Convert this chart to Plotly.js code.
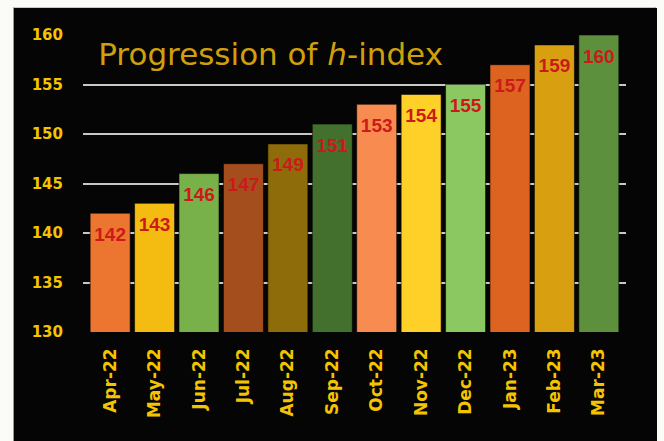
<!DOCTYPE html>
<html>
<head>
<meta charset="utf-8">
<script src="https://cdn.plot.ly/plotly-3.0.1.min.js"></script>
<style>
  html, body { margin: 0; padding: 0; background: #fbfbf8; overflow: hidden; width: 664px; height: 441px; }
  #chart { position: absolute; left: 13px; top: 7px; width: 643px; height: 434px;
           border-left: 1px solid #9a9a9a; border-right: 2px solid #b0b0b0; border-top: 1px solid #c8c8c8;
           box-sizing: border-box; background: #050505; }
</style>
</head>
<body>
<div id="chart"></div>
<script>
const months = ["Apr-22","May-22","Jun-22","Jul-22","Aug-22","Sep-22","Oct-22","Nov-22","Dec-22","Jan-23","Feb-23","Mar-23"];
const hIndex = [142,143,146,147,149,151,153,154,155,157,159,160];
const barColors = ["#EC7630","#F4BC10","#78B04A","#A44E1E","#8E6C0A","#44702E","#F88C50","#FFD028","#8CC862","#DC6420","#D8A010","#5C903C"];
const labelDrop = 2.3;

const bars = {
  type: 'bar', x: months, y: hIndex, base: 0,
  marker: { color: barColors, line: { color: 'rgba(0,0,0,0.55)', width: 1 } },
  hoverinfo: 'x+y', showlegend: false
};
const labels = {
  type: 'scatter', mode: 'text', x: months,
  y: hIndex.map(v => v - labelDrop),
  text: hIndex.map(String),
  textposition: 'middle center',
  textfont: { family: 'Liberation Sans Narrow, Arial, Liberation Sans, sans-serif', size: 19, color: '#CC1A1A', weight: 'bold' },
  hoverinfo: 'skip', showlegend: false
};

const layout = {
  width: 643, height: 434,
  paper_bgcolor: '#050505', plot_bgcolor: '#050505',
  margin: { l: 69, r: 31, t: 27, b: 110 },
  bargap: 0.1,
  title: {
    text: 'Progression of <i>h</i>-index',
    x: 0.131, xanchor: 'left', xref: 'container',
    y: 0.893, yanchor: 'middle', yref: 'container',
    font: { family: 'DejaVu Sans, sans-serif', size: 31, color: '#CFA00C' }
  },
  xaxis: {
    type: 'category', tickangle: -90,
    tickfont: { family: 'DejaVu Sans, sans-serif', size: 17, color: '#F5C400', weight: 'bold' },
    ticks: '', ticklabelstandoff: 12, showgrid: false, showline: false, zeroline: false
  },
  yaxis: {
    range: [130, 160], dtick: 5, tick0: 130,
    tickfont: { family: 'DejaVu Sans, sans-serif', size: 15, color: '#F5C400', weight: 'bold' },
    ticks: '', ticklabelstandoff: 19,
    showgrid: true, gridcolor: '#C8C8C8', gridwidth: 2,
    zeroline: false, showline: false
  }
};

Plotly.newPlot('chart', [bars, labels], layout, { displayModeBar: false, staticPlot: true });
</script>
</body>
</html>
